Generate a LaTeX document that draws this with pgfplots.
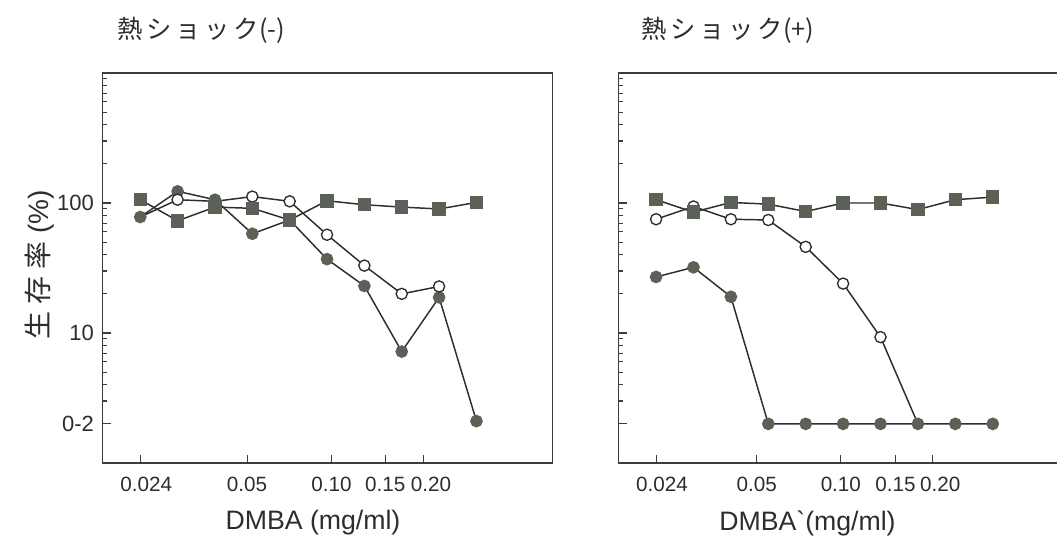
\documentclass[border=0pt]{standalone}
\usepackage{pgfplots}
\pgfplotsset{compat=1.18}
\usepackage{fontspec}
\setmainfont{Liberation Sans}
\newfontfamily\cjk{Noto Sans CJK JP}

\definecolor{mk}{RGB}{92,97,87}
\definecolor{ln}{RGB}{45,45,45}
\definecolor{ax}{RGB}{60,60,60}
\definecolor{tx}{RGB}{45,45,45}

\pgfplotsset{
 mypanel/.style={
  scale only axis, width=337.5pt, height=292.5pt, anchor=south west,
  ymin=1, ymax=1000,
  axis line style={ax, line width=1pt},
  ytick={1,10,100,1000},
  xtick pos=bottom, ytick pos=left,
  tick style={ax, line width=0.8pt},
  major tick length=6pt, minor tick length=3.5pt,
  xticklabel style={font=\fontsize{15.5}{18}\selectfont, text=tx, yshift=-7pt},
  yticklabel style={font=\fontsize{16.5}{19}\selectfont, text=tx, xshift=-3pt},
  extra y ticks={2},
  clip=false,
 },
 sq/.style={ln, line width=1.1pt, mark=square*, mark size=4.5pt, mark options={fill=mk, draw=mk, solid}},
 oc/.style={ln, line width=1.1pt, mark=*, mark size=4.2pt, mark options={fill=white, draw=ln, line width=1pt, solid}},
 fc/.style={ln, line width=1.1pt, mark=*, mark size=4.2pt, mark options={fill=mk, draw=mk, solid}},
}

\begin{document}
\begin{tikzpicture}
% left panel
\begin{axis}[ymode=log, mypanel, at={(77pt,62.25pt)},
  /pgf/number format/assume math mode=true,
  xmin=-1.006, xmax=11.04,
  xtick={0,2.86,5.12,6.56,7.57},
  xticklabels={\hspace{9pt}0.024,0.05,0.10,0.15\hspace{3pt},\hspace{12pt}0.20},
  yticklabels={,10,100,},
  extra y tick labels={0-2}]
\addplot[fc] coordinates {(0,78) (1,123) (2,106) (3,58) (4,74) (5,37) (6,23) (7,7.2) (8,18.8) (9,2.1)};
\addplot[oc, mark indices={2,4,5,6,7,8,9}] coordinates {(0,78) (1,106) (2,103) (3,112) (4,103) (5,57) (6,33) (7,20) (8,22.8)};
\addplot[sq] coordinates {(0,106) (1,73) (2,93) (3,91) (4,74) (5,104) (6,97) (7,93) (8,90) (9,101)};
\end{axis}
% right panel
\begin{axis}[ymode=log, mypanel, at={(464pt,62.25pt)},
  /pgf/number format/assume math mode=true,
  xmin=-1.0, xmax=11.03,
  xtick={0,2.69,4.94,6.40,7.38},
  xticklabels={\hspace{9pt}0.024,0.05,0.10,0.15\hspace{3pt},\hspace{12pt}0.20},
  yticklabels={},
  extra y tick labels={}]
\addplot[fc] coordinates {(0,27) (1,32) (2,19) (3,2) (4,2) (5,2) (6,2) (7,2) (8,2) (9,2)};
\addplot[oc, mark indices={1,2,3,4,5,6,7}] coordinates {(0,75) (1,94) (2,75) (3,74) (4,46) (5,24) (6,9.3) (7,2)};
\addplot[sq] coordinates {(0,106) (1,85) (2,101) (3,98) (4,86) (5,100) (6,100) (7,89) (8,106) (9,111)};
\end{axis}
% titles and labels
\node[anchor=west, text=tx, font=\cjk\fontsize{19}{22}\selectfont] at (84.5pt,387pt) {熱\hspace{0.15em}シ\hspace{0.15em}ョ\hspace{0.15em}ッ\hspace{0.15em}ク(-)};
\node[anchor=west, text=tx, font=\cjk\fontsize{19}{22}\selectfont] at (477.5pt,387pt) {熱\hspace{0.15em}シ\hspace{0.15em}ョ\hspace{0.15em}ッ\hspace{0.15em}ク(+)};
\node[rotate=90, text=tx, font=\fontsize{21}{25}\selectfont] at (30pt,210.75pt) {{\cjk 生\hspace{0.25em}存\hspace{0.25em}率} (\%)};
\node[text=tx, font=\fontsize{20}{24}\selectfont] at (234.75pt,17.25pt) {DMBA (mg/ml)};
\node[text=tx, font=\fontsize{20}{24}\selectfont] at (605.6pt,17.25pt) {DMBA\textasciigrave(mg/ml)};
\pgfresetboundingbox
\useasboundingbox (0,0) rectangle (792.75pt,409.5pt);
\end{tikzpicture}
\end{document}
